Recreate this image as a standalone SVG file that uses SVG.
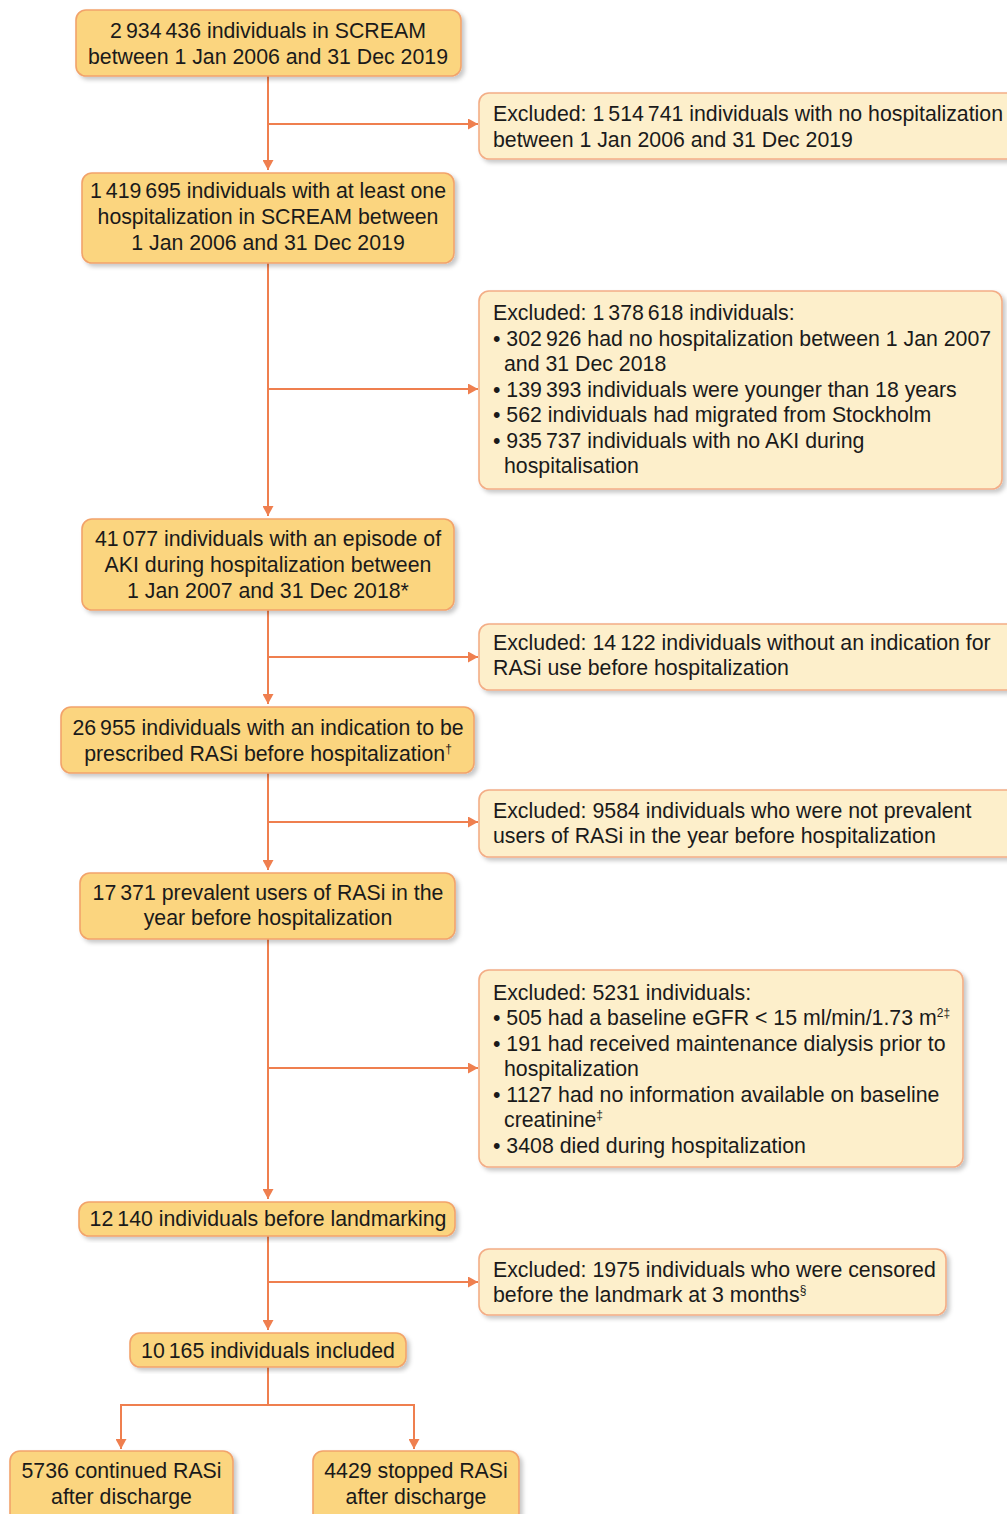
<svg xmlns="http://www.w3.org/2000/svg" width="1007" height="1514" viewBox="0 0 1007 1514">
<defs>
<filter id="sh" x="-5%" y="-10%" width="115%" height="130%">
<feDropShadow dx="3" dy="3" stdDeviation="2" flood-color="#000" flood-opacity="0.22"/>
</filter>
<marker id="ah" markerUnits="userSpaceOnUse" markerWidth="11" markerHeight="11" refX="10" refY="5.5" orient="auto">
<path d="M0,0 L10,5.5 L0,11 z" fill="#ef7f4f"/>
</marker>
<style>
.main rect{fill:#fbd57f;stroke:#f2a36b;stroke-width:1.6;filter:url(#sh)}
.excl rect{fill:#fdefcb;stroke:#f3ad86;stroke-width:1.6;filter:url(#sh)}
text{font-family:"Liberation Sans",Arial,Helvetica,sans-serif;font-size:21.3px;fill:#1a1a1a}
.c{text-anchor:middle}
.sup{font-size:12px}
#connectors path{fill:none;stroke:#ef7f4f;stroke-width:2}
</style>
</defs>
<rect width="1007" height="1514" fill="#fff"/>
<g id="connectors">
<path d="M268,76 V170" marker-end="url(#ah)"/>
<path d="M268,124 H478" marker-end="url(#ah)"/>
<path d="M268,263 V516" marker-end="url(#ah)"/>
<path d="M268,389 H478" marker-end="url(#ah)"/>
<path d="M268,610 V704" marker-end="url(#ah)"/>
<path d="M268,657 H478" marker-end="url(#ah)"/>
<path d="M268,773 V870" marker-end="url(#ah)"/>
<path d="M268,822 H478" marker-end="url(#ah)"/>
<path d="M268,939 V1199" marker-end="url(#ah)"/>
<path d="M268,1068 H478" marker-end="url(#ah)"/>
<path d="M268,1236 V1330" marker-end="url(#ah)"/>
<path d="M268,1282 H478" marker-end="url(#ah)"/>
<path d="M268,1367 V1405"/>
<path d="M268,1405 H414 V1449" marker-end="url(#ah)"/>
<path d="M268,1405 H121 V1449" marker-end="url(#ah)"/>
</g>
<g id="n1" class="main"><rect x="76" y="10" width="385" height="66" rx="10"/>
<text class="c" x="268" y="38">2<tspan dx="4">934</tspan><tspan dx="4">436 individuals in SCREAM</tspan></text>
<text class="c" x="268" y="64">between 1 Jan 2006 and 31 Dec 2019</text></g>
<g id="e1" class="excl"><rect x="479" y="93" width="540" height="66" rx="10"/>
<text x="493" y="121">Excluded: 1<tspan dx="4">514</tspan><tspan dx="4">741 individuals with no hospitalization</tspan></text>
<text x="493" y="147">between 1 Jan 2006 and 31 Dec 2019</text></g>
<g id="n2" class="main"><rect x="82" y="173" width="372" height="90" rx="10"/>
<text class="c" x="268" y="198">1<tspan dx="4">419</tspan><tspan dx="4">695 individuals with at least one</tspan></text>
<text class="c" x="268" y="224">hospitalization in SCREAM between</text>
<text class="c" x="268" y="250">1 Jan 2006 and 31 Dec 2019</text></g>
<g id="e2" class="excl"><rect x="479" y="291" width="523" height="198" rx="10"/>
<text x="493" y="320">Excluded: 1<tspan dx="4">378</tspan><tspan dx="4">618 individuals:</tspan></text>
<text x="493" y="346">• 302<tspan dx="4">926 had no hospitalization between 1 Jan 2007</tspan></text>
<text x="504" y="371">and 31 Dec 2018</text>
<text x="493" y="397">• 139<tspan dx="4">393 individuals were younger than 18 years</tspan></text>
<text x="493" y="422">• 562 individuals had migrated from Stockholm</text>
<text x="493" y="448">• 935<tspan dx="4">737 individuals with no AKI during</tspan></text>
<text x="504" y="473">hospitalisation</text></g>
<g id="n3" class="main"><rect x="82" y="519" width="372" height="91" rx="10"/>
<text class="c" x="268" y="546">41<tspan dx="4">077 individuals with an episode of</tspan></text>
<text class="c" x="268" y="572">AKI during hospitalization between</text>
<text class="c" x="268" y="598">1 Jan 2007 and 31 Dec 2018*</text></g>
<g id="e3" class="excl"><rect x="479" y="624" width="540" height="66" rx="10"/>
<text x="493" y="650">Excluded: 14<tspan dx="4">122 individuals without an indication for</tspan></text>
<text x="493" y="675">RASi use before hospitalization</text></g>
<g id="n4" class="main"><rect x="61" y="707" width="413" height="66" rx="10"/>
<text class="c" x="268" y="735">26<tspan dx="4">955 individuals with an indication to be</tspan></text>
<text class="c" x="268" y="761">prescribed RASi before hospitalization<tspan class="sup" dy="-8">†</tspan></text></g>
<g id="e4" class="excl"><rect x="479" y="790" width="540" height="67" rx="10"/>
<text x="493" y="818">Excluded: 9584 individuals who were not prevalent</text>
<text x="493" y="843">users of RASi in the year before hospitalization</text></g>
<g id="n5" class="main"><rect x="80" y="873" width="375" height="66" rx="10"/>
<text class="c" x="268" y="900">17<tspan dx="4">371 prevalent users of RASi in the</tspan></text>
<text class="c" x="268" y="925">year before hospitalization</text></g>
<g id="e5" class="excl"><rect x="479" y="970" width="484" height="197" rx="10"/>
<text x="493" y="1000">Excluded: 5231 individuals:</text>
<text x="493" y="1025">• 505 had a baseline eGFR &lt; 15 ml/min/1.73 m<tspan class="sup" dy="-8">2‡</tspan></text>
<text x="493" y="1051">• 191 had received maintenance dialysis prior to</text>
<text x="504" y="1076">hospitalization</text>
<text x="493" y="1102">• 1127 had no information available on baseline</text>
<text x="504" y="1127">creatinine<tspan class="sup" dy="-8">‡</tspan></text>
<text x="493" y="1153">• 3408 died during hospitalization</text></g>
<g id="n6" class="main"><rect x="79" y="1202" width="376" height="34" rx="10"/>
<text class="c" x="268" y="1226">12<tspan dx="4">140 individuals before landmarking</tspan></text></g>
<g id="e6" class="excl"><rect x="479" y="1249" width="467" height="66" rx="10"/>
<text x="493" y="1277">Excluded: 1975 individuals who were censored</text>
<text x="493" y="1302">before the landmark at 3 months<tspan class="sup" dy="-8">§</tspan></text></g>
<g id="n7" class="main"><rect x="130" y="1333" width="276" height="34" rx="10"/>
<text class="c" x="268" y="1358">10<tspan dx="4">165 individuals included</tspan></text></g>
<g id="n8" class="main"><rect x="10" y="1451" width="223" height="80" rx="10"/>
<text class="c" x="121.5" y="1478">5736 continued RASi</text>
<text class="c" x="121.5" y="1504">after discharge</text></g>
<g id="n9" class="main"><rect x="313" y="1451" width="206" height="80" rx="10"/>
<text class="c" x="416" y="1478">4429 stopped RASi</text>
<text class="c" x="416" y="1504">after discharge</text></g>
</svg>
